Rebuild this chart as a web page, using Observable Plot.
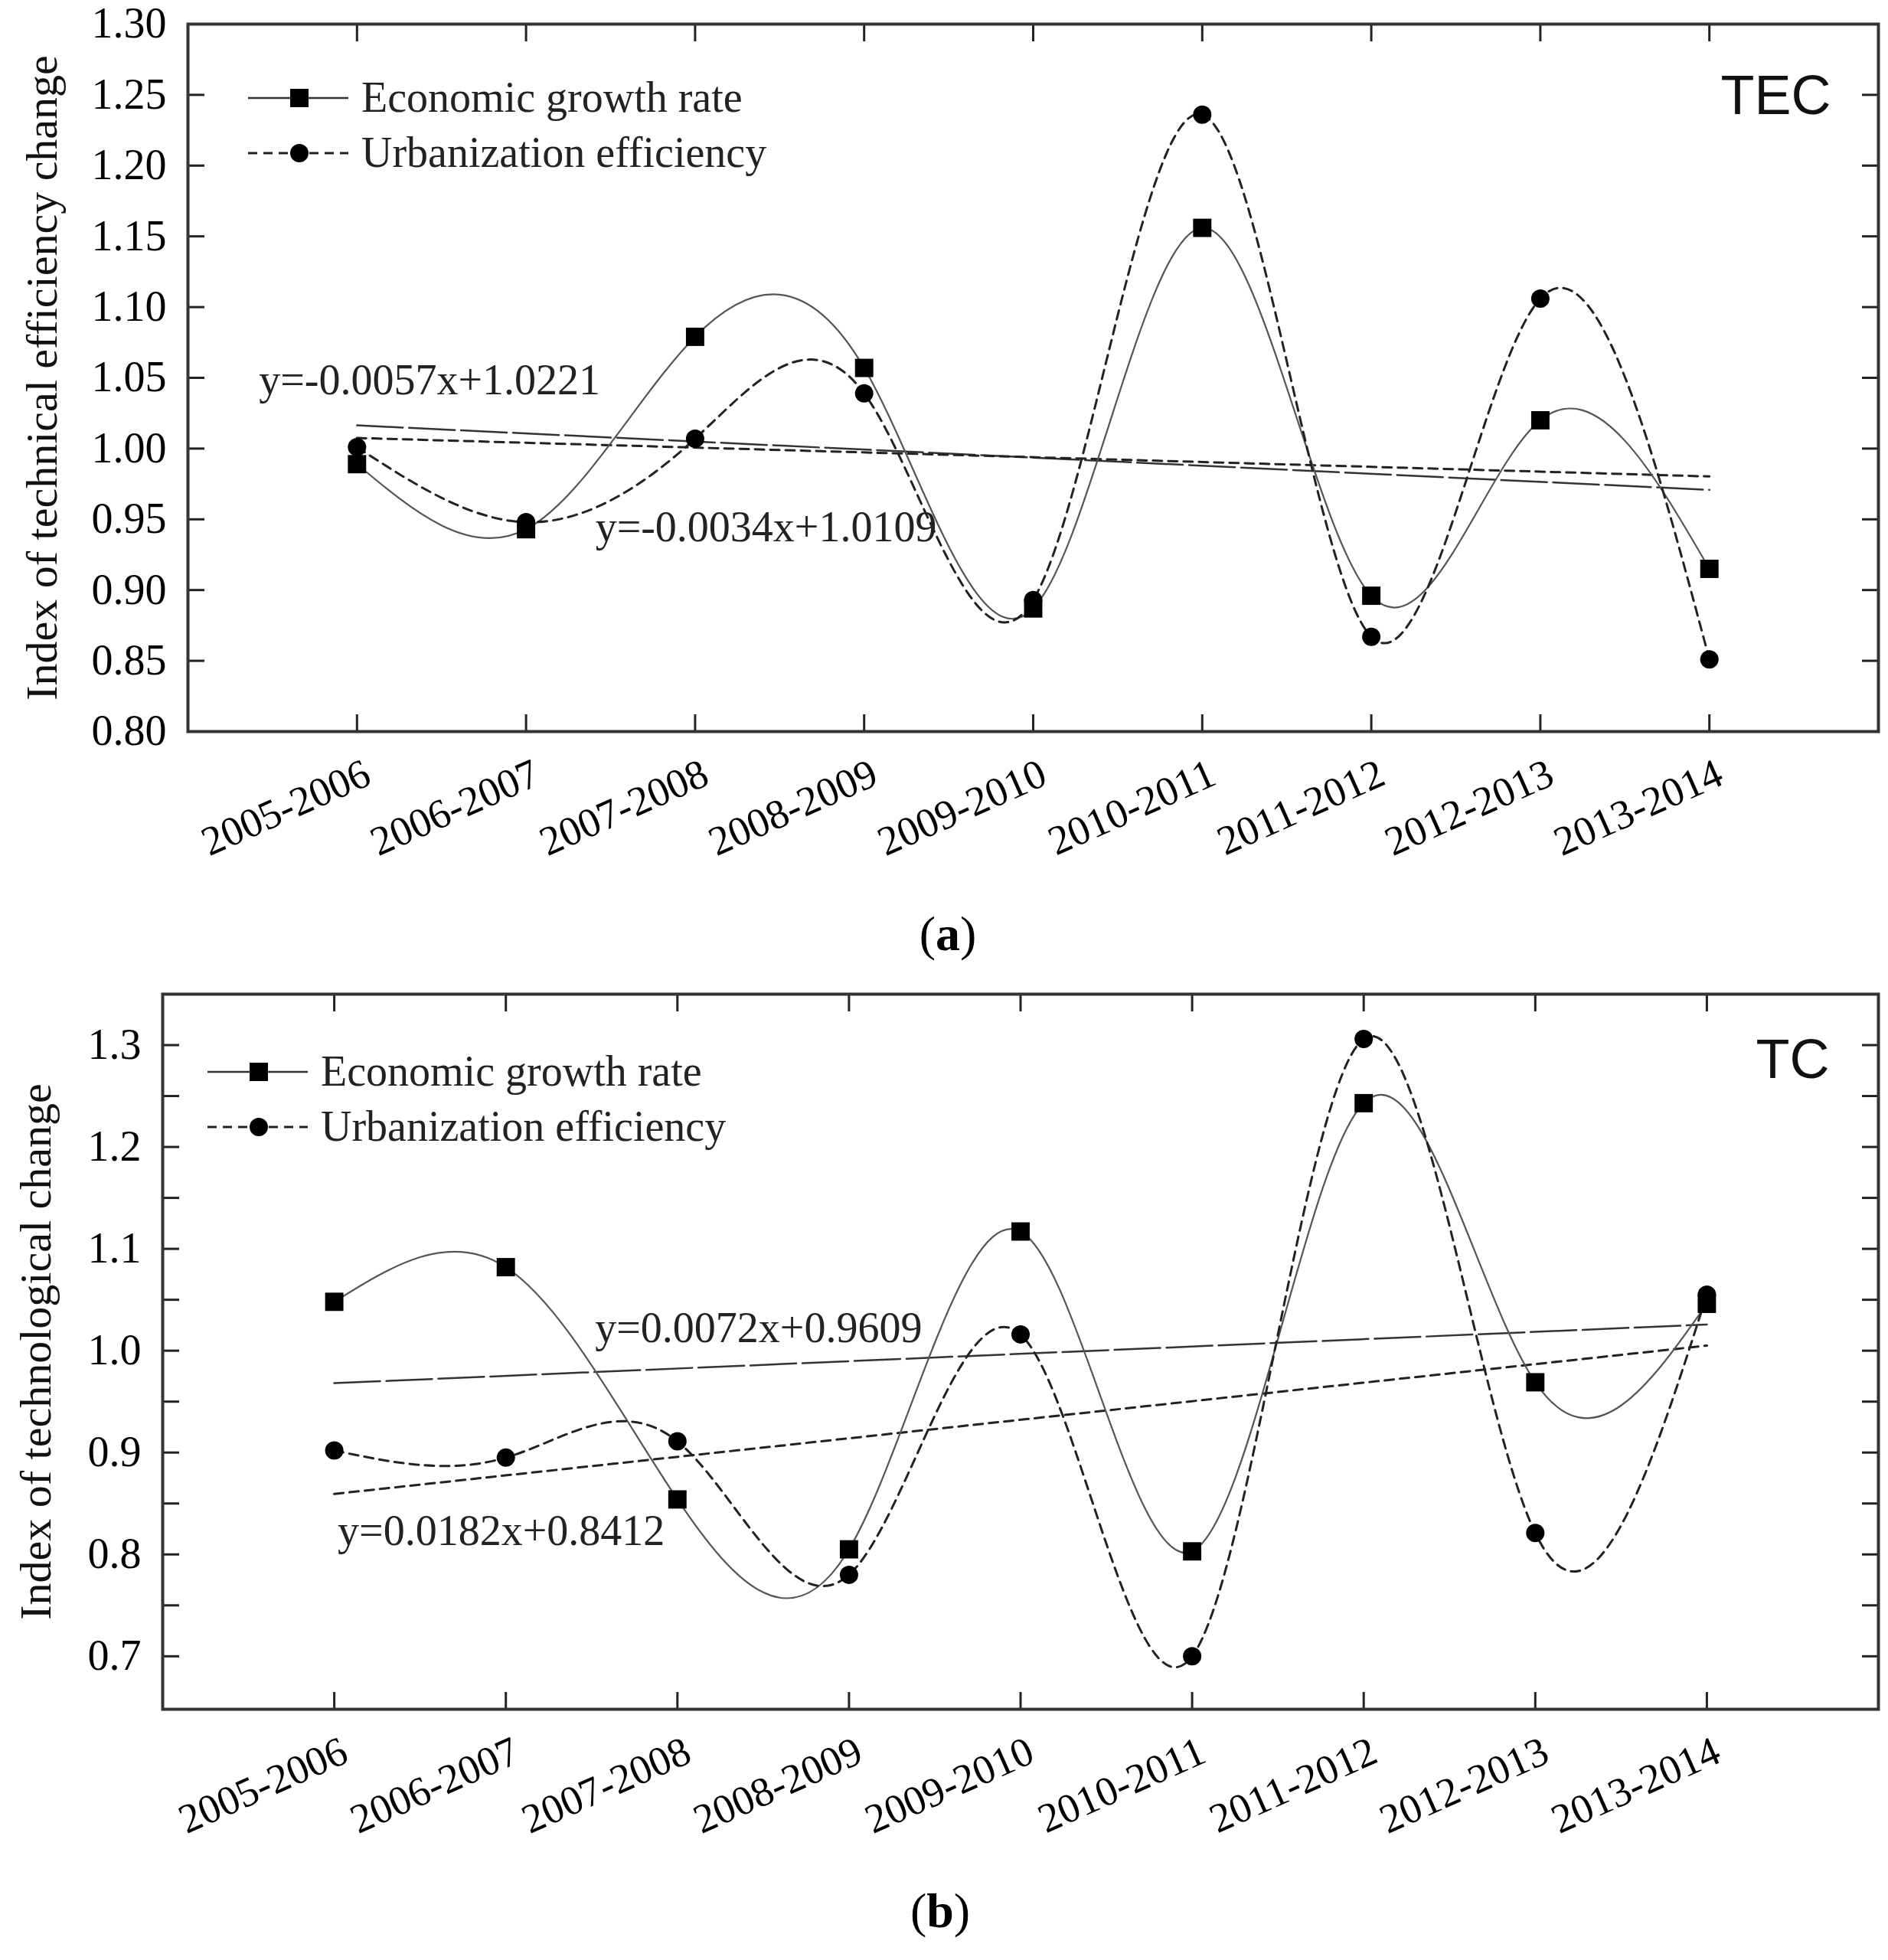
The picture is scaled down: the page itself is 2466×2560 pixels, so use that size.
<!DOCTYPE html>
<html>
<head>
<meta charset="utf-8">
<script src="https://cdn.jsdelivr.net/npm/d3@7"></script>
<script src="https://cdn.jsdelivr.net/npm/@observablehq/plot@0.6"></script>
<style>
  body { margin: 0; background: #fff; }
  #wrap { width: 2466px; }
  .cap { font-family: "Liberation Serif", serif; font-size: 64px; text-align: center; color: #000; }
  svg { overflow: visible; }
</style>
</head>
<body>
<div id="wrap">
  <div id="chartA"></div>
  <div class="cap" style="height:100px;line-height:100px;margin-left:10px">(<b>a</b>)</div>
  <div id="chartB"></div>
  <div class="cap" style="height:128px;line-height:128px;margin-left:-10px">(<b>b</b>)</div>
</div>
<script>
const periods = ['2005-2006', '2006-2007', '2007-2008', '2008-2009', '2009-2010',
  '2010-2011', '2011-2012', '2012-2013', '2013-2014']

// (a) TEC
const tecEconomic = [0.989, 0.943, 1.079, 1.057, 0.887, 1.156, 0.896, 1.020, 0.915]
const tecUrban = [1.001, 0.948, 1.007, 1.039, 0.893, 1.236, 0.867, 1.106, 0.851]
const tecSlopes = [-0.0057, -0.0034]      // economic, urbanization
const tecIntercepts = [1.0221, 1.0109]
const tecTicks = [0.80, 0.85, 0.90, 0.95, 1.00, 1.05, 1.10, 1.15, 1.20, 1.25, 1.30]

// (b) TC
const tcEconomic = [1.048, 1.082, 0.854, 0.805, 1.117, 0.803, 1.243, 0.969, 1.046]
const tcUrban = [0.902, 0.895, 0.911, 0.780, 1.016, 0.700, 1.306, 0.821, 1.055]
const tcSlopes = [0.0072, 0.0182]
const tcIntercepts = [0.9609, 0.8412]
const tcTicks = [0.70, 0.75, 0.80, 0.85, 0.90, 0.95, 1.00, 1.05, 1.10, 1.15, 1.20, 1.25, 1.30]
const tcLabelTicks = [0.7, 0.8, 0.9, 1.0, 1.1, 1.2, 1.3]

const seriesNames = ['Economic growth rate', 'Urbanization efficiency']

const serif = '"Liberation Serif", "Times New Roman", serif'
const sans = '"Liberation Sans", Arial, sans-serif'
const dashUrban = '12,8'

function makePanel(o) {
  const xs = periods.map((p, i) => i + 1)
  const econ = o.econ.map((v, i) => ({x: i + 1, y: v}))
  const urban = o.urban.map((v, i) => ({x: i + 1, y: v}))
  // regression lines from the equations printed on the chart
  const trend = (k) => [1, periods.length].map(x => ({x, y: o.slopes[k] * x + o.intercepts[k]}))

  const chart = Plot.plot({
    width: 2466,
    height: o.height,
    marginTop: o.marginTop,
    marginLeft: o.marginLeft,
    marginRight: 13,
    marginBottom: o.marginBottom,
    style: {background: '#fff', color: '#000'},
    x: {domain: [0, periods.length + 1]},
    y: {domain: o.yDomain},
    marks: [
      // inward ticks on all sides
      Plot.axisX({ticks: xs, tickSize: -22, fill: 'none', stroke: '#222', strokeWidth: 3, label: null}),
      Plot.axisX({anchor: 'top', ticks: xs, tickSize: -22, fill: 'none', stroke: '#222', strokeWidth: 3, label: null}),
      Plot.axisY({ticks: o.yTicks, tickSize: -22, fill: 'none', stroke: '#222', strokeWidth: 3, label: null}),
      Plot.axisY({anchor: 'right', ticks: o.yTicks, tickSize: -22, fill: 'none', stroke: '#222', strokeWidth: 3, label: null}),
      // tick labels
      Plot.axisX({ticks: xs, tickSize: 0, tickPadding: 52, dx: 14, tickRotate: -24,
        tickFormat: i => periods[i - 1], fontSize: 54, fontFamily: serif, label: null}),
      Plot.axisY({ticks: o.yLabelTicks, tickSize: 0, tickPadding: 28, tickFormat: d3.format(o.yFormat),
        fontSize: 56, fontFamily: serif, label: null}),
      Plot.text([o.yLabel], {text: d => d, frameAnchor: 'left', rotate: -90, dx: o.titleDx,
        textAnchor: 'middle', fontSize: 58, fontFamily: serif, lineAnchor: 'middle', fill: '#111'}),
      Plot.frame({stroke: '#333', strokeWidth: 4}),
      // trend lines
      Plot.line(trend(0), {x: 'x', y: 'y', stroke: '#333', strokeWidth: 2.5, strokeDasharray: '60,8'}),
      Plot.line(trend(1), {x: 'x', y: 'y', stroke: '#222', strokeWidth: 3, strokeDasharray: dashUrban}),
      // smoothed series
      Plot.line(econ, {x: 'x', y: 'y', curve: 'natural', stroke: '#555', strokeWidth: 2.2}),
      Plot.line(urban, {x: 'x', y: 'y', curve: 'natural', stroke: '#222', strokeWidth: 3, strokeDasharray: dashUrban}),
      Plot.dot(econ, {x: 'x', y: 'y', symbol: 'square', r: 13.5, fill: '#000', stroke: 'none'}),
      Plot.dot(urban, {x: 'x', y: 'y', symbol: 'circle', r: 12, fill: '#000', stroke: 'none'}),
      // equations
      Plot.text([o.eqs[0]], {x: o.eqPos[0][0], y: o.eqPos[0][1], text: d => d, textAnchor: 'start',
        fontSize: 56, fontFamily: serif, fill: '#222'}),
      Plot.text([o.eqs[1]], {x: o.eqPos[1][0], y: o.eqPos[1][1], text: d => d, textAnchor: 'start',
        fontSize: 56, fontFamily: serif, fill: '#222'}),
      Plot.text([o.tag], {text: d => d, frameAnchor: 'top-right', dx: o.tagDx, dy: o.tagDy,
        textAnchor: 'end', lineAnchor: 'middle', fontSize: 72, fontFamily: sans, fill: '#111'})
    ]
  })

  // legend inside the frame, top-left
  const svg = d3.select(chart.tagName === 'svg' ? chart : chart.querySelector('svg'))
  const lg = svg.append('g').attr('transform', `translate(${o.legend[0]},${o.legend[1]})`)
  seriesNames.forEach((name, i) => {
    const row = lg.append('g').attr('transform', `translate(0,${i * 72})`)
    row.append('line').attr('x1', 0).attr('x2', 131).attr('y1', 0).attr('y2', 0)
      .attr('stroke', i === 0 ? '#333' : '#222').attr('stroke-width', i === 0 ? 2.5 : 3)
      .attr('stroke-dasharray', i === 0 ? null : '12,8')
    if (i === 0) {
      row.append('rect').attr('x', 67 - 12).attr('y', -12).attr('width', 24).attr('height', 24).attr('fill', '#000')
    } else {
      row.append('circle').attr('cx', 67).attr('cy', 0).attr('r', 12).attr('fill', '#000')
    }
    row.append('text').attr('x', 148).attr('y', 0).attr('dy', '0.32em').attr('text-anchor', 'start')
      .attr('font-family', serif).attr('font-size', 56).attr('fill', '#222').text(name)
  })
  return chart
}

const chartA = makePanel({
  econ: tecEconomic, urban: tecUrban, slopes: tecSlopes, intercepts: tecIntercepts,
  height: 1170, marginTop: 31, marginLeft: 245, marginBottom: 215,
  yDomain: [0.80, 1.30], yTicks: tecTicks, yLabelTicks: tecTicks, yFormat: '.2f',
  yLabel: 'Index of technical efficiency change', titleDx: -190,
  eqs: ['y=-0.0057x+1.0221', 'y=-0.0034x+1.0109'], eqPos: [[0.42, 1.048], [2.41, 0.944]],
  tag: 'TEC', tagDx: -62, tagDy: 94, legend: [324, 128]
})
d3.select('#chartA').append(() => chartA)

const chartB = makePanel({
  econ: tcEconomic, urban: tcUrban, slopes: tcSlopes, intercepts: tcIntercepts,
  height: 1162, marginTop: 28, marginLeft: 212, marginBottom: 200,
  yDomain: [0.648, 1.35], yTicks: tcTicks, yLabelTicks: tcLabelTicks, yFormat: '.1f',
  yLabel: 'Index of technological change', titleDx: -165,
  eqs: ['y=0.0072x+0.9609', 'y=0.0182x+0.8412'], eqPos: [[2.52, 1.022], [1.02, 0.823]],
  tag: 'TC', tagDx: -64, tagDy: 86, legend: [271, 130]
})
d3.select('#chartB').append(() => chartB)
</script>
</body>
</html>
